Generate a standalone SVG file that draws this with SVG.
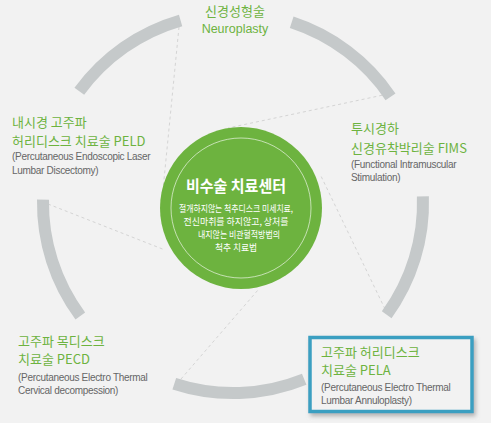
<svg xmlns="http://www.w3.org/2000/svg" width="491" height="423" viewBox="0 0 491 423">
<defs>
<style>
.arc{fill:none;stroke:#c5c9ca;stroke-width:12}
.dash{fill:none;stroke:#d4d4d4;stroke-width:1;stroke-dasharray:3 3}
.gt{font-family:"Noto Sans CJK KR","Noto Sans",sans-serif;font-size:13px;fill:#6db33f}
.en{font-family:"Liberation Sans",Arial,sans-serif;font-size:12.5px;fill:#6db33f}
.sub{font-family:"Liberation Sans",Arial,sans-serif;font-size:10px;fill:#666666;letter-spacing:-0.3px}
.wt{font-family:"Noto Sans CJK KR",sans-serif;fill:#ffffff;text-anchor:middle}
</style>
<filter id="sh" x="-10%" y="-10%" width="130%" height="140%">
<feDropShadow dx="2" dy="3" stdDeviation="2" flood-color="#888888" flood-opacity="0.6"/>
</filter>
</defs>
<rect width="491" height="423" fill="#f2f2f2"/>
<g id="connectors">
<path class="dash" d="M179,27 L162,200"/>
<path class="dash" d="M388,94 L228,128"/>
<path class="dash" d="M385,309 L320,174"/>
<path class="dash" d="M181,379 L258,290"/>
<path class="dash" d="M48,204 L165,250"/>
</g>
<g id="ring">
<path class="arc" d="M79.3,91.3 A190,190 0 0 1 180.6,20.4"/>
<path class="arc" d="M291.7,22.3 A190,190 0 0 1 390.5,96.8"/>
<path class="arc" d="M422.9,196.4 A190,190 0 0 1 386.7,314.7"/>
<path class="arc" d="M304.2,379.2 A190,190 0 0 1 174.3,383.7"/>
<path class="arc" d="M80.3,316 A190,190 0 0 1 43,199.7"/>
</g>
<g id="center">
<circle cx="241" cy="208" r="81" fill="#6db33f"/>
<circle cx="241" cy="208" r="70" fill="none" stroke="#ffffff" stroke-opacity="0.6" stroke-width="1"/>
<text class="wt" x="236" y="192" font-size="15.5" font-weight="bold" textLength="100" lengthAdjust="spacingAndGlyphs">비수술 치료센터</text>
<text class="wt" x="236" y="212" font-size="9.5" textLength="114" lengthAdjust="spacingAndGlyphs">절개하지않는 척추디스크 미세치료,</text>
<text class="wt" x="236" y="225" font-size="9.5" textLength="105" lengthAdjust="spacingAndGlyphs">전신마취를 하지않고, 상처를</text>
<text class="wt" x="239" y="238" font-size="9.5" textLength="82" lengthAdjust="spacingAndGlyphs">내지않는 비관혈적방법의</text>
<text class="wt" x="236" y="251" font-size="9.5" textLength="42" lengthAdjust="spacingAndGlyphs">척추 치료법</text>
</g>
<g id="neuroplasty">
<text class="gt" x="235" y="16" text-anchor="middle">신경성형술</text>
<text class="en" x="235" y="33" text-anchor="middle">Neuroplasty</text>
</g>
<g id="peld">
<text class="gt" x="12" y="127">내시경 고주파</text>
<text class="gt" x="12" y="146">허리디스크 치료술 PELD</text>
<text class="sub" x="12" y="160">(Percutaneous Endoscopic Laser</text>
<text class="sub" x="12" y="174">Lumbar Discectomy)</text>
</g>
<g id="fims">
<text class="gt" x="351" y="133">투시경하</text>
<text class="gt" x="351" y="153">신경유착박리술 FIMS</text>
<text class="sub" x="351" y="168">(Functional Intramuscular</text>
<text class="sub" x="351" y="181">Stimulation)</text>
</g>
<g id="pecd">
<text class="gt" x="18" y="346">고주파 목디스크</text>
<text class="gt" x="18" y="364">치료술 PECD</text>
<text class="sub" x="18" y="381">(Percutaneous Electro Thermal</text>
<text class="sub" x="18" y="394">Cervical decompession)</text>
</g>
<g id="pela">
<rect x="310" y="337.5" width="162" height="74" fill="#f2f2f2" stroke="#3a9fc1" stroke-width="3.5" filter="url(#sh)"/>
<text class="gt" x="321" y="357">고주파 허리디스크</text>
<text class="gt" x="321" y="375">치료술 PELA</text>
<text class="sub" x="321" y="391">(Percutaneous Electro Thermal</text>
<text class="sub" x="321" y="404">Lumbar Annuloplasty)</text>
</g>
</svg>
